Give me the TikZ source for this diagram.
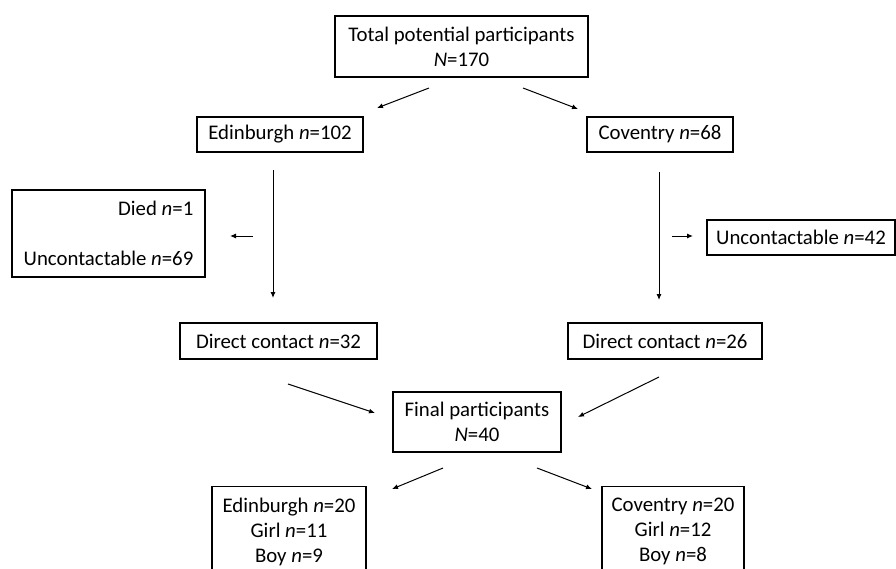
\documentclass[tikz,border=0pt]{standalone}
\usepackage{fontspec}
\setmainfont{Carlito}
\usetikzlibrary{arrows.meta}

\begin{document}
\begin{tikzpicture}[>={Latex[length=6pt,width=5pt]},x=1pt,y=-1pt,
  box/.style={draw,line width=1.2pt,inner sep=0pt,align=center,font=\fontsize{20.8}{25}\selectfont},
  flow/.style={->,line width=1pt}]
\useasboundingbox (0,0) rectangle (896,568);
% top: all participants, split by site
\node[box,minimum width=253,minimum height=61] (tot) at (461.5,46.5) {Total potential participants\\\textit{N}=170};
\node[box,minimum width=166,minimum height=35] (edi) at (280,134.5) {Edinburgh \textit{n}=102};
\node[box,minimum width=146,minimum height=35] (cov) at (660,134.5) {Coventry \textit{n}=68};
% losses at each site
\node[box,minimum width=193,minimum height=87,align=right] (lost) at (108.5,233.5) {Died \textit{n}=1\\~\\Uncontactable \textit{n}=69};
\node[box,minimum width=188,minimum height=35] (unc) at (801,237.5) {Uncontactable \textit{n}=42};
\node[box,minimum width=197,minimum height=36] (dca) at (278.5,341) {Direct contact \textit{n}=32};
\node[box,minimum width=194,minimum height=36] (dcb) at (665,341) {Direct contact \textit{n}=26};
% final sample
\node[box,minimum width=168,minimum height=60] (fin) at (477,422) {Final participants\\\textit{N}=40};
\node[box,minimum width=154,anchor=north,inner ysep=11pt] (ede) at (289,486) {Edinburgh \textit{n}=20\\Girl \textit{n}=11\\Boy \textit{n}=9};
\node[box,minimum width=142,anchor=north,inner ysep=11pt] (cve) at (673,486) {Coventry \textit{n}=20\\Girl \textit{n}=12\\Boy \textit{n}=8};
% arrow ends (arrows float between boxes)
\coordinate (s1) at (429,88); \coordinate (e1) at (377,108);
\coordinate (s2) at (523,88); \coordinate (e2) at (578,109);
\coordinate (s3) at (273,170); \coordinate (e3) at (273,298);
\coordinate (s4) at (659,172); \coordinate (e4) at (659,300);
\coordinate (s5) at (253,236); \coordinate (e5) at (230,236);
\coordinate (s6) at (672,236); \coordinate (e6) at (693,236);
\coordinate (s7) at (288,384); \coordinate (e7) at (375,413);
\coordinate (s8) at (659,377); \coordinate (e8) at (578,417);
\coordinate (s9) at (443,468); \coordinate (e9) at (392,489);
\coordinate (s10) at (537,468); \coordinate (e10) at (592,489);
\foreach \i in {1,...,10} \draw[flow] (s\i)--(e\i);
\end{tikzpicture}
\end{document}
